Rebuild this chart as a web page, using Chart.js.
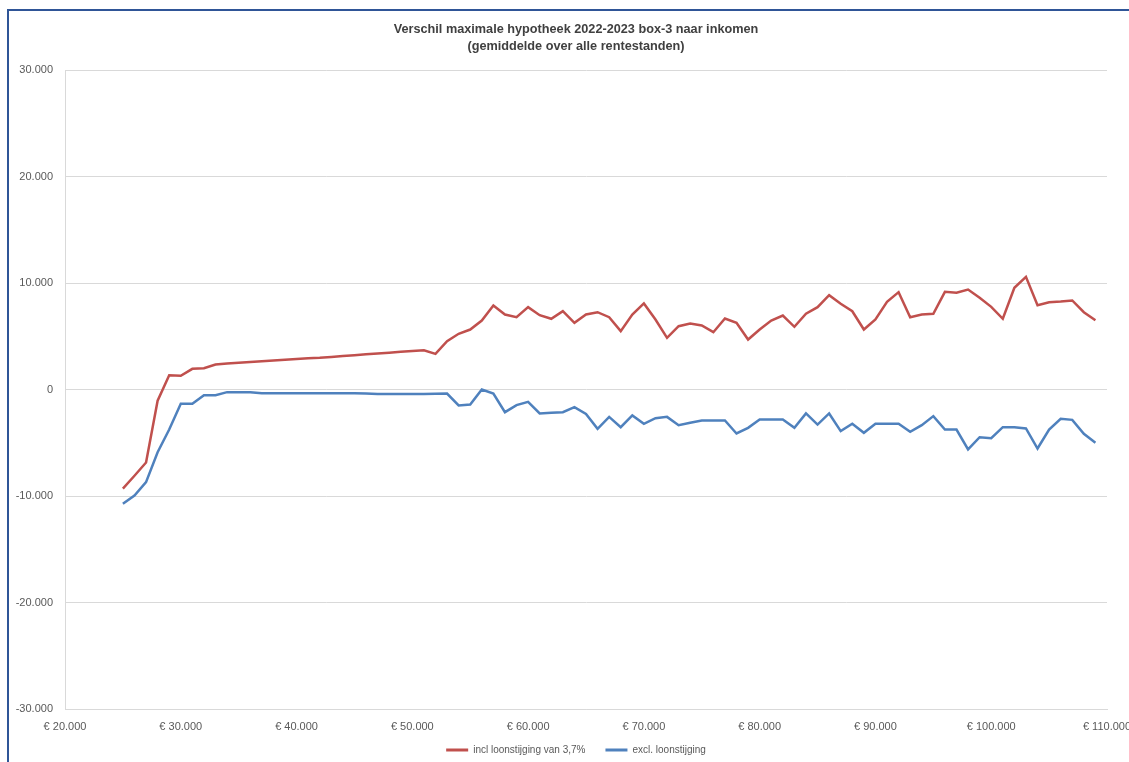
<!DOCTYPE html>
<html>
<head>
<meta charset="utf-8">
<script src="https://cdn.jsdelivr.net/npm/chart.js@4/dist/chart.umd.min.js"></script>
<style>
  html, body { margin: 0; padding: 0; background: #fff; overflow: hidden; }
  #wrap { position: relative; width: 1129px; height: 762px; overflow: hidden; }
  #myChart { position: absolute; left: 0; top: 0; }
  #frame {
    position: absolute; left: 7px; top: 9px; width: 1200px; height: 800px;
    border-left: 2px solid #2f5597; border-top: 2px solid #2f5597;
    pointer-events: none;
  }
</style>
</head>
<body>
<div id="wrap">
  <canvas id="myChart" width="1152" height="762"></canvas>
  <div id="frame"></div>
</div>
<script>
// inkomen (x)
var incomes = [
  25000, 26000, 27000, 28000, 29000, 30000, 31000, 32000, 33000, 34000,
  35000, 36000, 37000, 38000, 39000, 40000, 41000, 42000, 43000, 44000,
  45000, 46000, 47000, 48000, 49000, 50000, 51000, 52000, 53000, 54000,
  55000, 56000, 57000, 58000, 59000, 60000, 61000, 62000, 63000, 64000,
  65000, 66000, 67000, 68000, 69000, 70000, 71000, 72000, 73000, 74000,
  75000, 76000, 77000, 78000, 79000, 80000, 81000, 82000, 83000, 84000,
  85000, 86000, 87000, 88000, 89000, 90000, 91000, 92000, 93000, 94000,
  95000, 96000, 97000, 98000, 99000, 100000, 101000, 102000, 103000, 104000,
  105000, 106000, 107000, 108000, 109000
];

// incl loonstijging van 3,7%
var inclValues = [
  -9300, -8100, -6850, -1050, 1340, 1290, 1940, 2000, 2350, 2450,
  2520, 2590, 2660, 2730, 2800, 2870, 2930, 2980, 3060, 3140,
  3220, 3300, 3380, 3460, 3540, 3620, 3690, 3350, 4540, 5230,
  5630, 6480, 7890, 7040, 6790, 7730, 6980, 6640, 7350, 6260,
  7040, 7260, 6790, 5480, 7040, 8080, 6570, 4850, 5940, 6200,
  6010, 5380, 6670, 6260, 4690, 5630, 6480, 6950, 5890, 7110,
  7730, 8850, 8050, 7350, 5630, 6570, 8230, 9140, 6790, 7040,
  7110, 9170, 9080, 9390, 8610, 7760, 6640, 9550, 10580, 7920,
  8200, 8260, 8360, 7260, 6510
];

// excl. loonstijging
var exclValues = [
  -10730, -9950, -8700, -5890, -3760, -1340, -1340, -530, -530, -250,
  -250, -250, -350, -350, -350, -350, -350, -350, -350, -350,
  -350, -370, -420, -420, -420, -420, -420, -400, -380, -1500,
  -1410, 0, -380, -2130, -1470, -1160, -2250, -2190, -2130, -1660,
  -2290, -3690, -2570, -3540, -2440, -3220, -2690, -2570, -3350, -3130,
  -2910, -2910, -2910, -4130, -3600, -2820, -2820, -2820, -3600, -2250,
  -3290, -2250, -3910, -3220, -4070, -3220, -3220, -3220, -3970, -3350,
  -2500, -3760, -3760, -5630, -4480, -4570, -3540, -3540, -3660, -5540,
  -3760, -2750, -2850, -4160, -5000
];

var seriesNames = ["incl loonstijging van 3,7%", "excl. loonstijging"];
var lineColors = ["#c0504d", "#4f81bd"];

function fmt(v) {
  var s = Math.abs(v).toString().replace(/\B(?=(\d{3})+(?!\d))/g, ".");
  return (v < 0 ? "-" : "") + s;
}

function toPoints(ys) {
  return incomes.map(function (x, i) { return { x: x, y: ys[i] }; });
}

var gridColor = "#d9d9d9";
var textColor = "#595959";

// the x labels are clipped to the axis box, let them run down to the bottom
var unclipX = {
  id: "unclipX",
  afterLayout: function (chart) {
    chart.scales.x.bottom = chart.height;
  }
};

new Chart("myChart", {
  type: "line",
  data: {
    datasets: [{
      label: seriesNames[0],
      data: toPoints(inclValues),
      borderColor: lineColors[0],
      backgroundColor: lineColors[0],
      borderWidth: 2.5,
      pointRadius: 0,
      tension: 0
    }, {
      label: seriesNames[1],
      data: toPoints(exclValues),
      borderColor: lineColors[1],
      backgroundColor: lineColors[1],
      borderWidth: 2.5,
      pointRadius: 0,
      tension: 0
    }]
  },
  plugins: [unclipX],
  options: {
    responsive: false,
    animation: false,
    layout: { padding: { left: 0, right: 0, top: 0, bottom: -3 } },
    plugins: {
      title: {
        display: true,
        text: ["Verschil maximale hypotheek 2022-2023 box-3 naar inkomen",
               "(gemiddelde over alle rentestanden)"],
        color: "#404040",
        font: { family: "Liberation Sans", size: 12.7, weight: "bold", lineHeight: "17px" },
        padding: { top: 20.5, bottom: 15.5 }
      },
      legend: {
        position: "bottom",
        labels: {
          color: textColor,
          font: { family: "Liberation Sans", size: 10 },
          boxWidth: 22,
          boxHeight: 3,
          padding: 20,
          generateLabels: function (chart) {
            var items = Chart.defaults.plugins.legend.labels.generateLabels(chart);
            items.forEach(function (it) { it.lineWidth = 0; });
            return items;
          }
        }
      },
      tooltip: { enabled: false }
    },
    scales: {
      x: {
        type: "linear",
        min: 20000,
        max: 110000,
        grid: { display: false, drawTicks: false },
        border: { display: true, color: gridColor },
        ticks: {
          stepSize: 10000,
          autoSkip: false,
          maxRotation: 0,
          padding: 11,
          color: textColor,
          font: { family: "Liberation Sans", size: 11 },
          callback: function (v) { return "€ " + fmt(v); }
        },
        afterFit: function (scale) {
          scale.height = 16;
          scale.paddingLeft = 0;
          scale.paddingRight = 45;
        }
      },
      y: {
        min: -30000,
        max: 30000,
        grid: { color: gridColor, drawTicks: false },
        border: { display: true, color: gridColor },
        ticks: {
          stepSize: 10000,
          padding: 12,
          color: textColor,
          font: { family: "Liberation Sans", size: 11 },
          callback: function (v) { return fmt(v); }
        },
        afterFit: function (scale) {
          scale.width = 65;
          scale.paddingTop = 0;
          scale.paddingBottom = 0;
        }
      }
    }
  }
});
</script>
</body>
</html>
